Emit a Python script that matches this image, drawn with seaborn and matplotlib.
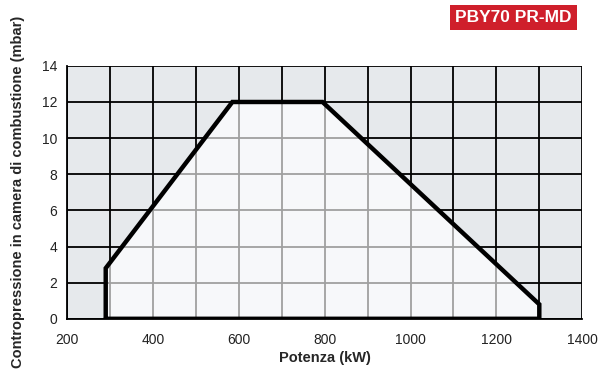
import numpy as np
import pandas as pd
import matplotlib
matplotlib.use('Agg')
import matplotlib.pyplot as plt
import seaborn as sns

# working field outline (kW, mbar)
potenza = [290, 290, 585, 795, 1300, 1300, 290]
pressione = [0, 2.8, 12, 12, 0.8, 0, 0]
x_ticks = [200, 400, 600, 800, 1000, 1200, 1400]
y_ticks = [0, 2, 4, 6, 8, 10, 12, 14]
x_grid = list(range(200, 1401, 100))
y_grid = y_ticks

data = pd.DataFrame({'Potenza': potenza, 'Pressione': pressione})

sns.set_style('white')
plt.rcParams['font.family'] = ['Liberation Sans', 'DejaVu Sans']

fig = plt.figure(figsize=(5.99, 3.72), dpi=100)
ax = fig.add_axes([0.112, 0.143, 0.860, 0.680])
ax.set_facecolor('#e6e9ec')

# black grid outside the field
for gx in x_grid:
    ax.axvline(gx, color='black', lw=1.3, zorder=0.5)
for gy in y_grid:
    ax.axhline(gy, color='black', lw=1.3, zorder=0.5)

# light field with grey grid inside
patch = ax.fill(data['Potenza'], data['Pressione'], color='#f7f8fa', lw=0, zorder=1)[0]
for gx in x_grid:
    ln = ax.axvline(gx, color='#a0a0a0', lw=1.3, zorder=1.5)
    ln.set_clip_path(patch)
for gy in y_grid:
    ln = ax.axhline(gy, color='#a0a0a0', lw=1.3, zorder=1.5)
    ln.set_clip_path(patch)

sns.lineplot(data=data, x='Potenza', y='Pressione', sort=False, estimator=None,
             color='black', lw=3.2, ax=ax, zorder=3)
ax.lines[-1].set_solid_joinstyle('miter')

ax.set_xlim(200, 1400)
ax.set_ylim(0, 14)
ax.set_xticks(x_ticks)
ax.set_yticks(y_ticks)
ax.tick_params(axis='both', direction='out', length=4, width=1.2, color='black',
               labelsize=10, labelcolor='#222222', pad=3)
ax.tick_params(axis='x', pad=6)
for s in ['top', 'right']:
    ax.spines[s].set_visible(False)
for s in ['left', 'bottom']:
    ax.spines[s].set_color('black')
    ax.spines[s].set_linewidth(1.3)

ax.set_xlabel('Potenza (kW)', fontsize=10.5, fontweight='bold', labelpad=3)
ax.set_ylabel('Contropressione in camera di combustione (mbar)', fontsize=10.5,
              fontweight='bold', labelpad=12)

fig.text(0.857, 0.953, 'PBY70 PR-MD', color='white', fontsize=12.5, fontweight='bold',
         ha='center', va='center',
         bbox=dict(boxstyle='square,pad=0.3', facecolor='#cf1f2b', edgecolor='none'))

fig.savefig('out.png', dpi=100)
